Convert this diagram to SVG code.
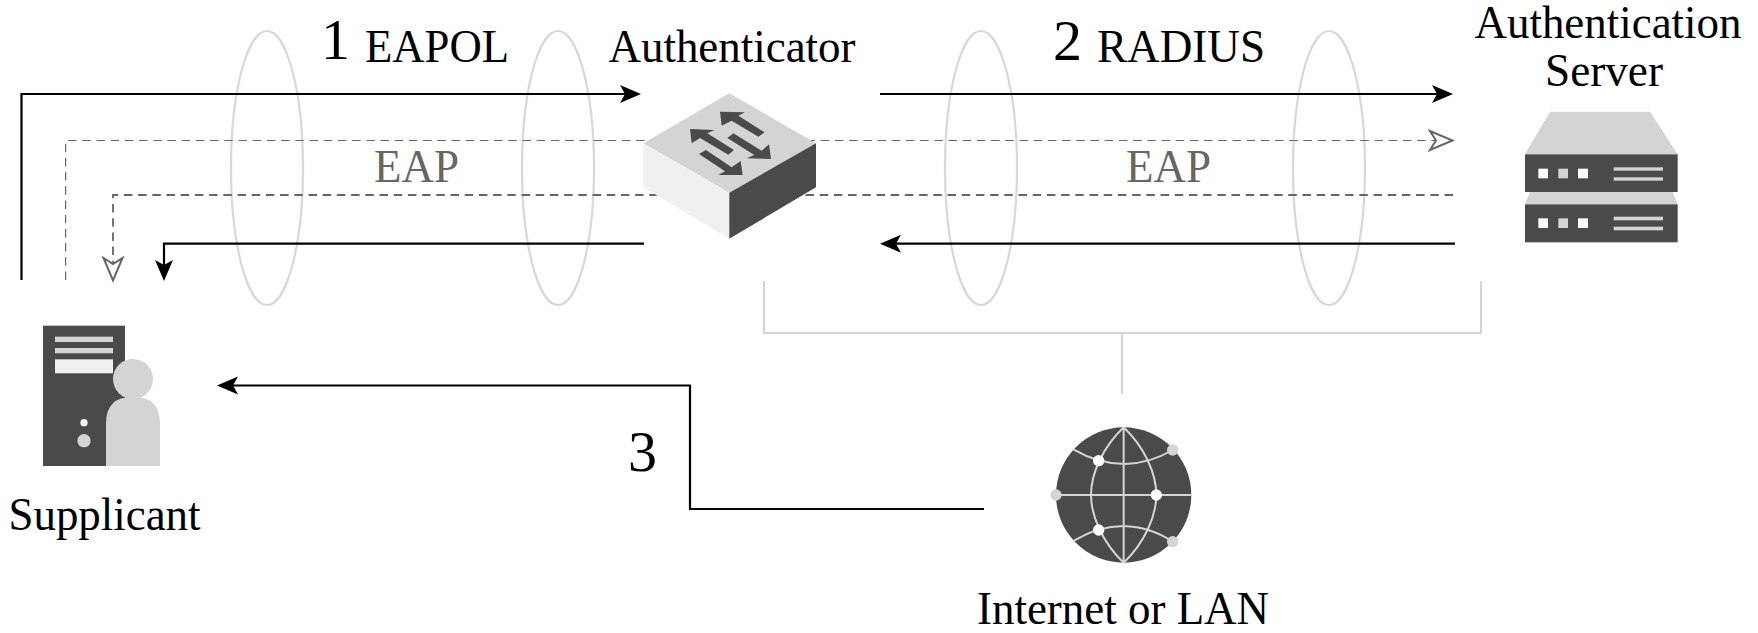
<svg xmlns="http://www.w3.org/2000/svg" width="1758" height="633" viewBox="0 0 1758 633">
<style>
text{font-family:"Liberation Serif","Times New Roman",serif;fill:#000}
.lab{font-size:47px}
.top{font-size:46px}
.num{font-size:58px}
.eap{font-size:47px;fill:#666}
.tunnel{fill:none;stroke:#d8d8d8;stroke-width:2.2}
.solid{fill:none;stroke:#000;stroke-width:2.2}
.solidEnd{marker-end:url(#solidArrow)}
.dash1{fill:none;stroke:#666;stroke-width:1.2;stroke-dasharray:8.500 5.700}
.dash2{fill:none;stroke:#666;stroke-width:1.8;stroke-dasharray:8.500 5.700}
.openEnd{marker-end:url(#openArrow)}
.bracket{fill:none;stroke:#d4d4d4;stroke-width:2}
.d{fill:#4a4a4a}.g{fill:#d4d4d4}.w{fill:#fff}.l{fill:#f0f0f0}
.gl{fill:none;stroke:#d4d4d4;stroke-width:6}
</style>
<defs>
<marker id="solidArrow" markerUnits="userSpaceOnUse" markerWidth="24" markerHeight="20" refX="5" refY="9" orient="auto"><path d="M0 0L21 9L0 18L5 9Z" fill="#000"/></marker>
<marker id="openArrow" markerUnits="userSpaceOnUse" markerWidth="30" markerHeight="28" refX="8" refY="12" orient="auto"><path d="M2 2.500L24.500 12L2 21.500L8 12Z" fill="#fff" stroke="#666" stroke-width="2"/></marker>
</defs>
<g id="tunnels">
<ellipse class="tunnel" cx="267" cy="168" rx="36" ry="137"/>
<ellipse class="tunnel" cx="558" cy="168" rx="36" ry="137"/>
<ellipse class="tunnel" cx="981" cy="168" rx="36" ry="137"/>
<ellipse class="tunnel" cx="1329" cy="168" rx="36" ry="137"/>
</g>
<g id="connectors">
<path class="solid solidEnd" d="M21.500 280V94H625"/>
<path class="dash1 openEnd" d="M65.600 280V140.500H1436"/>
<path class="dash2 openEnd" d="M1453 195H113V264"/>
<path class="solid solidEnd" d="M644 243.700H164V265"/>
<path class="solid solidEnd" d="M880 94H1437"/>
<path class="solid solidEnd" d="M1455 243.700H896"/>
<path class="solid solidEnd" d="M984 509H690V385.500H233"/>
<path class="bracket" d="M764 281V333H1481V281M1122 333V394"/>
</g>
<g id="label-1"><text class="num" x="321" y="59">1</text><text class="lab" x="365" y="62" textLength="144" lengthAdjust="spacingAndGlyphs">EAPOL</text></g>
<g id="label-2"><text class="num" x="1053" y="60">2</text><text class="lab" x="1097" y="62" textLength="168" lengthAdjust="spacingAndGlyphs">RADIUS</text></g>
<g id="label-3"><text class="num" x="628" y="471">3</text></g>
<g id="eap-left"><text class="eap" x="374" y="181.700" textLength="85" lengthAdjust="spacingAndGlyphs">EAP</text></g>
<g id="eap-right"><text class="eap" x="1126" y="181.700" textLength="85" lengthAdjust="spacingAndGlyphs">EAP</text></g>
<g id="authenticator">
<text class="lab" x="608.500" y="62" textLength="247" lengthAdjust="spacingAndGlyphs">Authenticator</text>
<path class="g" d="M729.300 93.300L816 143.300L729.300 192.700L643.300 143.300Z"/>
<path class="l" d="M643.300 143.300L729.300 192.700V238.700L643.300 187.300Z"/>
<path class="d" d="M816 143.300L729.300 192.700V238.700L816 187.300Z"/>
<g transform="translate(620 80) scale(.33333)" class="d">
<path d="M300 95L375 97L355 107L434 157L415 170L335 122L305 137Z"/>
<path d="M210 147L283 150L262 160L342 210L325 224L240 174L215 190Z"/>
<path d="M453 237L380 235L403 225L322 174L340 160L425 212L447 193Z"/>
<path d="M368 285L295 285L315 274L237 222L258 210L335 262L362 243Z"/>
</g>
</g>
<g id="authentication-server">
<text class="top" x="1474.500" y="38" textLength="267" lengthAdjust="spacingAndGlyphs">Authentication</text>
<text class="lab" x="1545" y="86" textLength="118" lengthAdjust="spacingAndGlyphs">Server</text>
<g transform="translate(1500 100) scale(.33333)">
<path class="g" d="M150 35H450L533 163H75Z"/>
<rect class="d" x="75" y="163" width="458" height="113"/>
<rect class="w" x="115" y="206" width="29" height="29"/><rect class="g" x="175" y="206" width="29" height="29"/><rect class="w" x="234" y="206" width="30" height="29"/>
<rect class="g" x="341" y="202" width="148" height="10"/><rect class="g" x="341" y="232" width="148" height="10"/>
<path class="g" d="M90 276H518L533 313H75Z"/>
<rect class="d" x="75" y="313" width="458" height="114"/>
<rect class="w" x="115" y="355" width="29" height="29"/><rect class="g" x="175" y="355" width="29" height="29"/><rect class="w" x="234" y="355" width="30" height="29"/>
<rect class="g" x="341" y="350" width="148" height="11"/><rect class="g" x="341" y="380" width="148" height="11"/>
</g>
</g>
<g id="supplicant">
<text class="lab" x="8.500" y="530" textLength="192" lengthAdjust="spacingAndGlyphs">Supplicant</text>
<g transform="translate(0 310) scale(.33333)">
<rect class="d" x="129" y="47" width="246" height="421"/>
<rect class="g" x="165" y="80" width="174" height="16"/><rect class="g" x="165" y="114" width="174" height="16"/><rect class="l" x="165" y="148" width="174" height="42"/>
<circle class="l" cx="252" cy="338" r="11"/><circle class="g" cx="252" cy="392" r="20"/>
<circle class="g" cx="399" cy="207" r="60"/>
<path class="g" d="M318 468V340Q318 260 399 260Q480 260 480 340V468Z"/>
</g>
</g>
<g id="internet">
<text class="lab" x="977" y="624" textLength="292" lengthAdjust="spacingAndGlyphs">Internet or LAN</text>
<g transform="translate(960 400) scale(.33333)">
<circle class="d" cx="491" cy="285" r="203"/>
<path class="gl" d="M491 82V488M290 285H695M491 82C430 140 393 220 393 285S430 430 491 488M491 82C552 140 589 220 589 285S552 430 491 488M340 148Q415 192 495 192Q570 190 638 150M342 422Q415 378 491 378Q570 380 638 425"/>
<circle class="w" cx="416" cy="182" r="17"/><circle class="w" cx="589" cy="285" r="17"/><circle class="w" cx="416" cy="390" r="17"/>
<circle class="g" cx="638" cy="150" r="17"/><circle class="g" cx="288" cy="285" r="17"/><circle class="g" cx="638" cy="425" r="17"/>
</g>
</g>
</svg>
